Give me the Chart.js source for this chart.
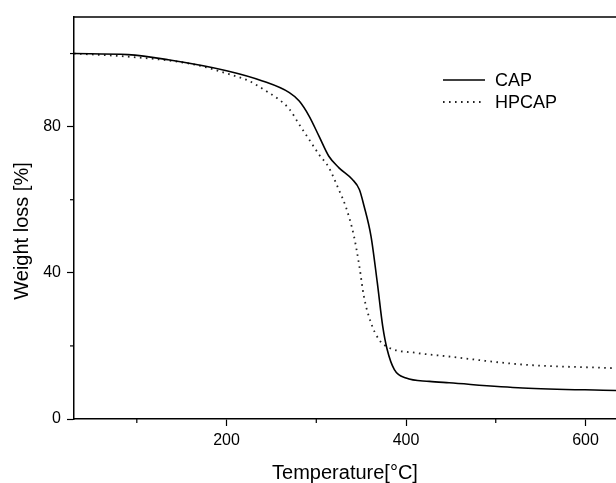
<!DOCTYPE html>
<html>
<head>
<meta charset="utf-8">
<script src="https://cdn.jsdelivr.net/npm/chart.js@4"></script>
<style>
  html, body { margin: 0; padding: 0; background: #fff; }
  #wrap { width: 616px; height: 483px; }
</style>
</head>
<body>
<div id="wrap"><canvas id="tgChart" width="616" height="483"></canvas></div>
<script>
// TGA curves
const capTemp = [30, 90, 135, 200, 240, 270, 281, 292, 303, 314, 325, 340, 348, 353, 361, 368, 374, 379, 387, 400, 426, 448, 530, 634];
const capWeight = [100, 99.7, 98.3, 95.3, 92.5, 89.3, 87, 82.9, 77.4, 71.9, 68.8, 65.6, 62.8, 58.5, 50, 37.3, 25.4, 19, 13.5, 11.2, 10.3, 9.9, 8.5, 7.8];

const hpcapTemp = [30, 87, 162, 205, 225, 247, 258, 270, 281, 292, 303, 314, 325, 333, 342, 348, 353, 361, 370, 381, 411, 444, 530, 634];
const hpcapWeight = [100, 99.2, 97.1, 94.2, 92.5, 89.3, 87.5, 84.8, 80.6, 76.5, 72.4, 68.8, 62.8, 58, 50, 41.8, 33.6, 26.3, 21.7, 19.5, 18.1, 17.2, 14.9, 13.9];

const seriesNames = ['CAP', 'HPCAP'];

const xMajor = [200, 400, 600];
const xMinor = [100, 300, 500];
const yMajor = [0, 40, 80];
const yMinor = [20, 60, 100];
const xRange = [30, 634];
const yRange = [0, 110];

const FONT = "'Liberation Sans', Arial, sans-serif";

function pairs(xs, ys) {
    return xs.map((x, i) => ({ x: x, y: ys[i] }));
}

// top frame line, minor ticks, y title and legend
const decorations = {
    id: 'decorations',
    afterDraw(chart) {
        const ctx = chart.ctx;
        const area = chart.chartArea;
        const xs = chart.scales.x;
        const ys = chart.scales.y;
        ctx.save();
        ctx.strokeStyle = '#000';
        ctx.lineWidth = 1.5;

        ctx.beginPath();
        ctx.moveTo(area.left - 0.75, area.top);
        ctx.lineTo(area.right, area.top);
        ctx.stroke();

        ctx.lineWidth = 1.2;
        xMinor.forEach(v => {
            const px = xs.getPixelForValue(v);
            ctx.beginPath();
            ctx.moveTo(px, area.bottom);
            ctx.lineTo(px, area.bottom + 4);
            ctx.stroke();
        });
        yMinor.forEach(v => {
            const py = ys.getPixelForValue(v);
            ctx.beginPath();
            ctx.moveTo(area.left, py);
            ctx.lineTo(area.left - 4, py);
            ctx.stroke();
        });

        // y title
        ctx.fillStyle = '#000';
        ctx.font = '20px ' + FONT;
        ctx.textAlign = 'center';
        ctx.textBaseline = 'middle';
        ctx.translate(22, 231);
        ctx.rotate(-Math.PI / 2);
        ctx.fillText('Weight loss [%]', 0, 0);
        ctx.setTransform(1, 0, 0, 1, 0, 0);

        // legend
        ctx.font = '18px ' + FONT;
        ctx.textAlign = 'left';
        chart.data.datasets.forEach((ds, i) => {
            const ly = 80 + i * 22;
            ctx.strokeStyle = ds.borderColor;
            ctx.lineWidth = ds.borderWidth;
            ctx.setLineDash(ds.borderDash || []);
            ctx.beginPath();
            ctx.moveTo(443, ly);
            ctx.lineTo(485, ly);
            ctx.stroke();
            ctx.setLineDash([]);
            ctx.fillText(ds.label, 495, ly + 1);
        });
        ctx.restore();
    }
};

const ctx = document.getElementById('tgChart').getContext('2d');

const chart = new Chart(ctx, {
    type: 'line',
    data: {
        datasets: [{
            label: seriesNames[0],
            data: pairs(capTemp, capWeight),
            borderColor: '#000',
            borderWidth: 1.6,
            pointRadius: 0,
            cubicInterpolationMode: 'monotone',
            fill: false
        }, {
            label: seriesNames[1],
            data: pairs(hpcapTemp, hpcapWeight),
            borderColor: '#222',
            borderWidth: 1.8,
            borderDash: [1.6, 4.4],
            pointRadius: 0,
            cubicInterpolationMode: 'monotone',
            fill: false
        }]
    },
    options: {
        responsive: false,
        animation: false,
        layout: {
            padding: { top: 17, right: 0, bottom: 0, left: 0 }
        },
        scales: {
            x: {
                type: 'linear',
                min: xRange[0],
                max: xRange[1],
                afterBuildTicks: axis => { axis.ticks = xMajor.map(v => ({ value: v })); },
                afterFit: axis => { axis.height = 64; },
                border: { display: true, color: '#000', width: 1.5 },
                grid: { drawOnChartArea: false, tickLength: 7, tickColor: '#000', tickWidth: 1.2 },
                ticks: {
                    color: '#000',
                    padding: 5,
                    maxRotation: 0,
                    autoSkip: false,
                    font: { family: FONT, size: 16 }
                },
                title: {
                    display: true,
                    text: 'Temperature[°C]',
                    color: '#000',
                    font: { family: FONT, size: 20, lineHeight: 1 },
                    padding: { top: 0, bottom: 0 }
                }
            },
            y: {
                min: yRange[0],
                max: yRange[1],
                afterBuildTicks: axis => { axis.ticks = yMajor.map(v => ({ value: v })); },
                afterFit: axis => { axis.width = 74; },
                border: { display: true, color: '#000', width: 1.5 },
                grid: { drawOnChartArea: false, tickLength: 7, tickColor: '#000', tickWidth: 1.2 },
                ticks: {
                    color: '#000',
                    padding: 6,
                    font: { family: FONT, size: 16 }
                }
            }
        },
        plugins: {
            legend: { display: false },
            tooltip: { enabled: false }
        }
    },
    plugins: [decorations]
});
</script>
</body>
</html>
